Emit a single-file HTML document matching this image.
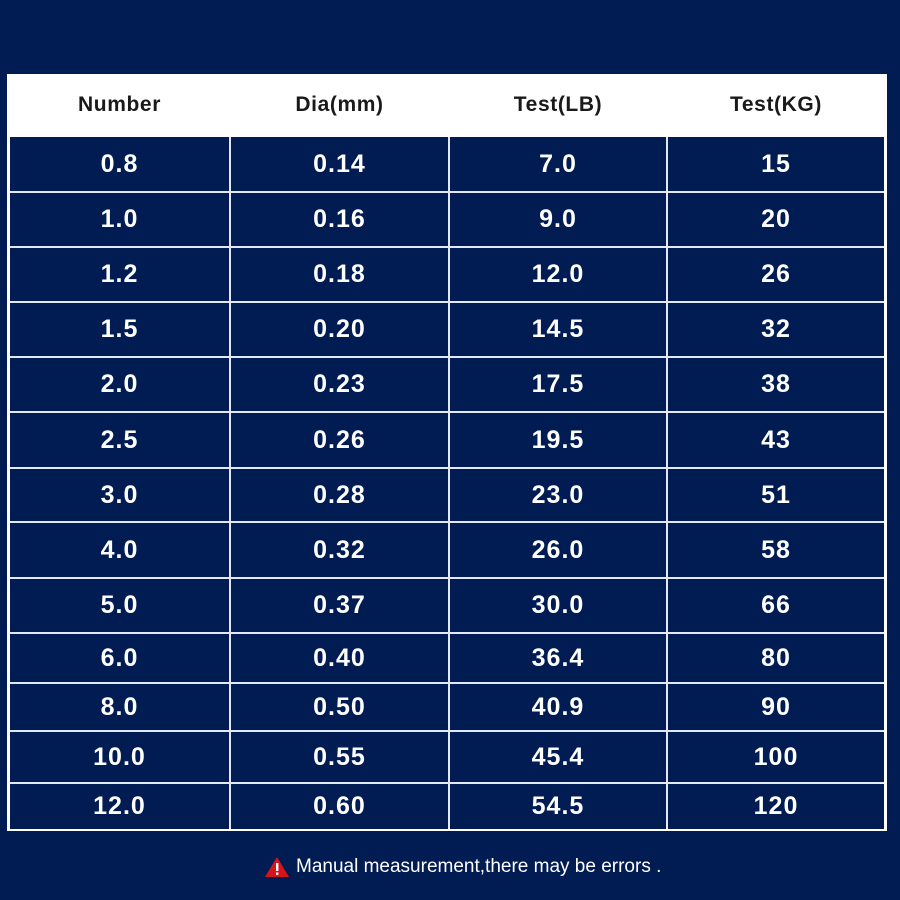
<!DOCTYPE html>
<html><head><style>
body{margin:0;width:900px;height:900px;background:#011b53;position:relative;overflow:hidden;font-family:"Liberation Sans",Arial,sans-serif}
.box{position:absolute;left:7px;top:74px;width:880px;height:757px;background:#fff}
.g{position:absolute;left:10px;top:137px;width:874px;height:691px;display:grid;grid-template-columns:219px 217px 216px 216px;grid-template-rows:54px 53px 53px 53px 53px 54px 52px 54px 53px 48px 46px 50px 45px;gap:2px;background:#e4e8f2}
.g div{background:#011b53;color:#fff;font-weight:bold;font-size:25px;letter-spacing:1px;display:flex;align-items:center;justify-content:center}
.hd{position:absolute;left:10px;top:74px;height:62px;width:874px;display:grid;grid-template-columns:219px 217px 216px 216px;gap:2px}
.hd div{color:#1a1a1a;font-weight:bold;font-size:21px;letter-spacing:0.6px;display:flex;align-items:center;justify-content:center}
.note{position:absolute;top:856px;left:264px;color:#fff;font-size:19px;display:flex;align-items:center}
</style></head><body>
<div class="box"></div>
<div class="hd"><div>Number</div><div>Dia(mm)</div><div>Test(LB)</div><div>Test(KG)</div></div>
<div class="g">
<div>0.8</div><div>0.14</div><div>7.0</div><div>15</div>
<div>1.0</div><div>0.16</div><div>9.0</div><div>20</div>
<div>1.2</div><div>0.18</div><div>12.0</div><div>26</div>
<div>1.5</div><div>0.20</div><div>14.5</div><div>32</div>
<div>2.0</div><div>0.23</div><div>17.5</div><div>38</div>
<div>2.5</div><div>0.26</div><div>19.5</div><div>43</div>
<div>3.0</div><div>0.28</div><div>23.0</div><div>51</div>
<div>4.0</div><div>0.32</div><div>26.0</div><div>58</div>
<div>5.0</div><div>0.37</div><div>30.0</div><div>66</div>
<div>6.0</div><div>0.40</div><div>36.4</div><div>80</div>
<div>8.0</div><div>0.50</div><div>40.9</div><div>90</div>
<div>10.0</div><div>0.55</div><div>45.4</div><div>100</div>
<div>12.0</div><div>0.60</div><div>54.5</div><div>120</div>
</div>
<div class="note"><svg width="26" height="22" viewBox="0 0 26 22" style="margin-right:6px"><polygon points="13,1 25,21 1,21" fill="#d8141b"/><rect x="12" y="7" width="2.4" height="8" fill="#fff"/><rect x="12" y="16.5" width="2.4" height="2.4" fill="#fff"/></svg>Manual measurement,there may be errors .</div>
</body></html>
